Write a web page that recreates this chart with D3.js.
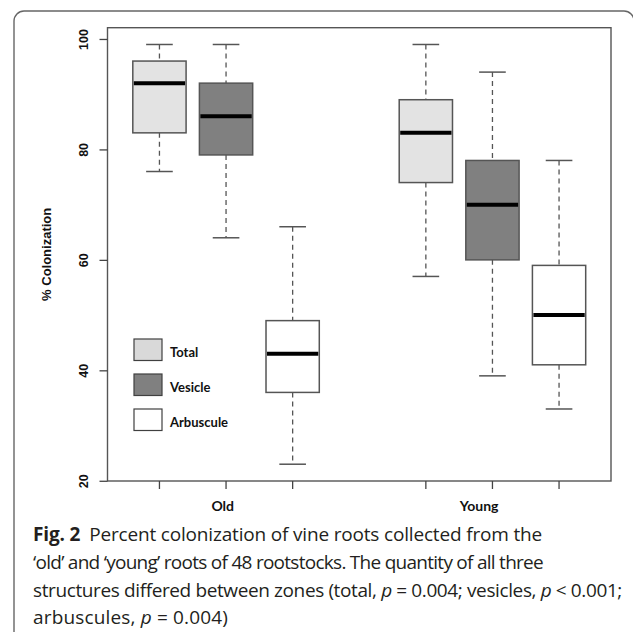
<!doctype html>
<html lang='en'>
<head>
  <meta charset='utf-8'>
  <title>Percent colonization</title>
  <style>
    html, body { margin: 0; padding: 0; background: #fff; }
    svg { display: block; }
    .axis text { font-family: 'Liberation Sans', Arial, sans-serif; font-size: 12.5px; font-weight: bold; fill: #111; }
    .axis line { stroke: #444; stroke-width: 1.3; }
    .legend text, .group text { font-family: Lato, 'Open Sans', sans-serif; font-weight: bold; font-size: 13px; fill: #111; }
    .group text { font-size: 14px; }
    .caption text { font-family: 'Open Sans', sans-serif; font-size: 19px; fill: #231f20; }
  </style>
</head>
<body>
  <script src='https://d3js.org/d3.v7.min.js'></script>
  <script>
    const groups = ['Old', 'Young']
    const structures = ['Total', 'Vesicle', 'Arbuscule']
    const fills = ['#e3e3e3', '#808080', '#ffffff']
    const legendFills = ['#d9d9d9', '#808080', '#ffffff']

    // one entry per box: Old Total, Old Vesicle, Old Arbuscule, Young Total, ...
    const positions = [1, 2, 3, 5, 6, 7]
    const whiskerHigh = [99, 99, 66, 99, 94, 78]
    const q3 = [96, 92, 49, 89, 78, 59]
    const median = [92, 86, 43, 83, 70, 50]
    const q1 = [83, 79, 36, 74, 60, 41]
    const whiskerLow = [76, 64, 23, 57, 39, 33]

    const yTicks = [20, 40, 60, 80, 100]
    const groupLabelX = [1.95, 5.8]

    const captionLines = [
      [{ t: 'Fig. 2', b: true }, { t: 'Percent colonization of vine roots collected from the', dx: 9 }],
      [{ t: '\u2018old\u2019 and \u2018young\u2019 roots of 48 rootstocks. The quantity of all three' }],
      [{ t: 'structures differed between zones (total, ' }, { t: 'p', i: true }, { t: ' = 0.004; vesicles, ' }, { t: 'p', i: true }, { t: ' < 0.001;' }],
      [{ t: 'arbuscules, ' }, { t: 'p', i: true }, { t: ' = 0.004)' }]
    ]
    const captionWidths = [500, 510, 589, 195]

    const width = 633
    const height = 632

    const boxes = positions.map((p, i) => ({
      pos: p,
      hi: whiskerHigh[i],
      q3: q3[i],
      med: median[i],
      q1: q1[i],
      lo: whiskerLow[i],
      fill: fills[i % 3]
    }))

    const svg = d3.select('body').append('svg')
      .attr('width', width)
      .attr('height', height)

    // outer figure frame
    svg.append('rect')
      .attr('x', 14).attr('y', 11)
      .attr('width', 620).attr('height', 640)
      .attr('rx', 10)
      .attr('fill', 'none')
      .attr('stroke', '#666')
      .attr('stroke-width', 1.4)

    const x = d3.scaleLinear().domain([0.22, 7.78]).range([107.5, 611])
    const y = d3.scaleLinear().domain([19.96, 102.04]).range([481, 27.7])

    const boxW = 0.8
    const capW = 0.4

    const plot = svg.append('g')

    const b = plot.selectAll('g.box')
      .data(boxes)
      .join('g')
      .attr('class', 'box')

    // whiskers
    b.append('line')
      .attr('x1', d => x(d.pos)).attr('x2', d => x(d.pos))
      .attr('y1', d => y(d.hi)).attr('y2', d => y(d.q3))
      .attr('stroke', '#555').attr('stroke-width', 1.3)
      .attr('stroke-dasharray', '5 4')
    b.append('line')
      .attr('x1', d => x(d.pos)).attr('x2', d => x(d.pos))
      .attr('y1', d => y(d.q1)).attr('y2', d => y(d.lo))
      .attr('stroke', '#555').attr('stroke-width', 1.3)
      .attr('stroke-dasharray', '5 4')

    // staples
    b.append('line')
      .attr('x1', d => x(d.pos - capW / 2)).attr('x2', d => x(d.pos + capW / 2))
      .attr('y1', d => y(d.hi)).attr('y2', d => y(d.hi))
      .attr('stroke', '#555').attr('stroke-width', 1.5)
    b.append('line')
      .attr('x1', d => x(d.pos - capW / 2)).attr('x2', d => x(d.pos + capW / 2))
      .attr('y1', d => y(d.lo)).attr('y2', d => y(d.lo))
      .attr('stroke', '#555').attr('stroke-width', 1.5)

    b.append('rect')
      .attr('x', d => x(d.pos - boxW / 2))
      .attr('width', d => x(d.pos + boxW / 2) - x(d.pos - boxW / 2))
      .attr('y', d => y(d.q3))
      .attr('height', d => y(d.q1) - y(d.q3))
      .attr('fill', d => d.fill)
      .attr('stroke', '#555')
      .attr('stroke-width', 1.5)

    b.append('line')
      .attr('x1', d => x(d.pos - boxW / 2) + 1).attr('x2', d => x(d.pos + boxW / 2) - 1)
      .attr('y1', d => y(d.med)).attr('y2', d => y(d.med))
      .attr('stroke', '#000').attr('stroke-width', 4)

    // plot frame
    plot.append('rect')
      .attr('x', x(0.22)).attr('y', y(102.04))
      .attr('width', x(7.78) - x(0.22))
      .attr('height', y(19.96) - y(102.04))
      .attr('fill', 'none')
      .attr('stroke', '#555')
      .attr('stroke-width', 1.4)

    // y axis
    const yAxis = svg.append('g')
      .attr('class', 'axis')
      .attr('transform', `translate(${x(0.22)},0)`)
      .call(d3.axisLeft(y).tickValues(yTicks).tickSize(8).tickFormat(d3.format('d')))
    yAxis.select('.domain').remove()
    yAxis.selectAll('text')
      .attr('x', 0).attr('dy', 0)
      .attr('text-anchor', 'middle')
      .attr('transform', 'translate(-20,0) rotate(-90)')

    svg.append('text')
      .attr('transform', `translate(50.5,${(y(19.96) + y(102.04)) / 2}) rotate(-90)`)
      .attr('text-anchor', 'middle')
      .style('font-family', "'Liberation Sans', Arial, sans-serif")
      .style('font-size', '13px')
      .style('font-weight', 'bold')
      .style('fill', '#111')
      .text('% Colonization')

    // x ticks
    svg.append('g').selectAll('line')
      .data(positions)
      .join('line')
      .attr('x1', d => x(d)).attr('x2', d => x(d))
      .attr('y1', y(19.96)).attr('y2', y(19.96) + 8)
      .attr('stroke', '#444').attr('stroke-width', 1.3)

    svg.append('g').attr('class', 'group')
      .selectAll('text')
      .data(groups)
      .join('text')
      .attr('x', (d, i) => x(groupLabelX[i]))
      .attr('y', 510.5)
      .attr('text-anchor', 'middle')
      .text(d => d)

    // legend
    const lg = svg.append('g').attr('class', 'legend')
    const legendTop = [339, 374, 409]
    structures.forEach((s, i) => {
      lg.append('rect')
        .attr('x', 134).attr('y', legendTop[i])
        .attr('width', 28).attr('height', 21.5)
        .attr('fill', legendFills[i])
        .attr('stroke', '#404040')
        .attr('stroke-width', 1.2)
      lg.append('text')
        .attr('x', 170).attr('y', legendTop[i] + 18)
        .text(s)
    })

    // caption: fit each line to its width with letter spacing
    const cap = svg.append('g').attr('class', 'caption')
    const baselines = [541, 569, 597, 624]
    captionLines.forEach((parts, i) => {
      const t = cap.append('text')
        .attr('x', 33)
        .attr('y', baselines[i])
        .attr('xml:space', 'preserve')
      parts.forEach(p => {
        const ts = t.append('tspan').text(p.t)
        if (p.b) ts.style('font-weight', 'bold')
        if (p.i) ts.style('font-style', 'italic')
        if (p.dx) ts.attr('dx', p.dx)
      })
      const natural = t.node().getComputedTextLength()
      const n = parts.reduce((s, p) => s + p.t.length, 0)
      t.style('letter-spacing', ((captionWidths[i] - natural) / n) + 'px')
    })
  </script>
</body>
</html>
